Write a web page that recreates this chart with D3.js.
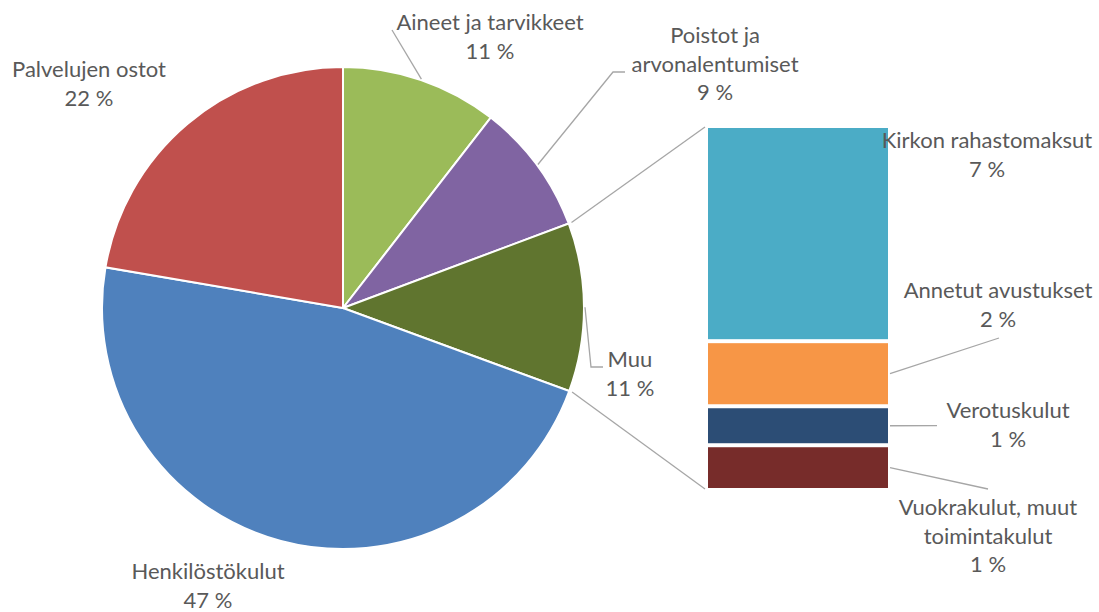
<!DOCTYPE html>
<html>
<head>
<meta charset="utf-8">
<script src="https://cdn.jsdelivr.net/npm/d3@7"></script>
<style>
  html, body { margin: 0; padding: 0; background: #fff; }
  svg text { font-family: Lato, 'Open Sans', sans-serif; fill: #595959; }
</style>
</head>
<body>
<div id="chart"></div>
<script>
// pie slices, clockwise from 12 o'clock ("Muu" is split out into the bar)
const pieNames = ['Aineet ja tarvikkeet', 'Poistot ja arvonalentumiset', 'Muu', 'Henkilöstökulut', 'Palvelujen ostot']
const pieValues = [10.5, 8.8, null, 47.1, 22.3]
const pieColors = ['#9BBB59', '#8064A2', '#60752F', '#4F81BD', '#C0504D']

// bar segments, top to bottom
const barNames = ['Kirkon rahastomaksut', 'Annetut avustukset', 'Verotuskulut', 'Vuokrakulut, muut toimintakulut']
const barValues = [6.68, 2.02, 1.21, 1.39]
const barColors = ['#4BACC6', '#F79646', '#2C4D75', '#772C2A']

// label text lines (name split as the original wraps it) + percent text
const pieLabelLines = [['Aineet ja tarvikkeet'], ['Poistot ja', 'arvonalentumiset'], ['Muu'], ['Henkilöstökulut'], ['Palvelujen ostot']]
const barLabelLines = [['Kirkon rahastomaksut'], ['Annetut avustukset'], ['Verotuskulut'], ['Vuokrakulut, muut', 'toimintakulut']]

const muuTotal = d3.sum(barValues)
pieValues[2] = muuTotal

const width = 1099; const height = 612
const cx = 343; const cy = 308; const radius = 241
const barX = 708; const barW = 180; const barTop = 126; const barBottom = 490
const lineH = 28.5
const fontSize = 22

// label layout: centre x, first baseline y, leader end (relative to label) or null
const pieLabelPos = [
  { x: 490, y: 30, leader: [392, 30] },
  { x: 715, y: 43, leader: [625, 72], elbow: [613, 72] },
  { x: 630, y: 367, leader: [603, 367], elbow: [591, 367] },
  { x: 208, y: 579, leader: null },
  { x: 89, y: 77, leader: null }
]
const barLabelPos = [
  { x: 987, y: 148, leader: null },
  { x: 998, y: 298, leader: [999, 338] },
  { x: 1008, y: 418, leader: [937, 425.7] },
  { x: 988, y: 515, leader: [988, 489] }
]

const svg = d3.select('#chart').append('svg')
  .attr('width', width).attr('height', height)

const pie = d3.pie().sort(null).value(d => d).startAngle(0).endAngle(2 * Math.PI)
const arcs = pie(pieValues)
const arc = d3.arc().innerRadius(0).outerRadius(radius)

const g = svg.append('g').attr('transform', 'translate(' + cx + ',' + cy + ')')

g.selectAll('path')
  .data(arcs)
  .enter().append('path')
  .attr('d', arc)
  .attr('fill', (d, i) => pieColors[i])
  .attr('stroke', '#fff')
  .attr('stroke-width', 2)

const onCircle = (a, r) => [cx + r * Math.sin(a), cy - r * Math.cos(a)]

// bar of "Muu"
const yScale = d3.scaleLinear().domain([0, muuTotal]).range([barTop, barBottom])
let acc = 0
const segs = barValues.map((v, i) => {
  const s = { i, y0: yScale(acc), y1: yScale(acc + v) }
  acc += v
  return s
})

svg.append('g').selectAll('rect')
  .data(segs)
  .enter().append('rect')
  .attr('x', barX)
  .attr('y', d => d.y0 + 2)
  .attr('width', barW)
  .attr('height', d => d.y1 - d.y0 - 4)
  .attr('fill', d => barColors[d.i])

// connector lines between the split slice and the bar
const muuArc = arcs[2]
const lineColor = '#A6A6A6'
const conn = [
  [onCircle(muuArc.startAngle, radius + 3), [barX - 3, yScale(0) + 1]],
  [onCircle(muuArc.endAngle, radius + 3), [barX - 3, yScale(muuTotal) - 1]]
]
svg.append('g').selectAll('line')
  .data(conn)
  .enter().append('line')
  .attr('x1', d => d[0][0]).attr('y1', d => d[0][1])
  .attr('x2', d => d[1][0]).attr('y2', d => d[1][1])
  .attr('stroke', lineColor).attr('stroke-width', 1.3)

// leader lines
const leaders = []
arcs.forEach((a, i) => {
  const p = pieLabelPos[i]
  if (!p.leader) return
  const start = onCircle((a.startAngle + a.endAngle) / 2, radius + 1)
  leaders.push(p.elbow ? [start, p.elbow, p.leader] : [start, p.leader])
})
segs.forEach((s, i) => {
  const p = barLabelPos[i]
  if (!p.leader) return
  leaders.push([[barX + barW + 2, (s.y0 + s.y1) / 2], p.leader])
})
svg.append('g').selectAll('path')
  .data(leaders)
  .enter().append('path')
  .attr('d', d => d3.line()(d))
  .attr('fill', 'none')
  .attr('stroke', lineColor).attr('stroke-width', 1.3)

// labels
const fmt = v => Math.round(v) + ' %'
function drawLabel(lines, value, pos) {
  const t = svg.append('text')
    .attr('text-anchor', 'middle')
    .style('font-size', fontSize + 'px')
  lines.concat([fmt(value)]).forEach((l, k) => {
    t.append('tspan').attr('x', pos.x).attr('y', pos.y + k * lineH).text(l)
  })
}
pieValues.forEach((v, i) => drawLabel(pieLabelLines[i], v, pieLabelPos[i]))
barValues.forEach((v, i) => drawLabel(barLabelLines[i], v, barLabelPos[i]))
</script>
</body>
</html>
